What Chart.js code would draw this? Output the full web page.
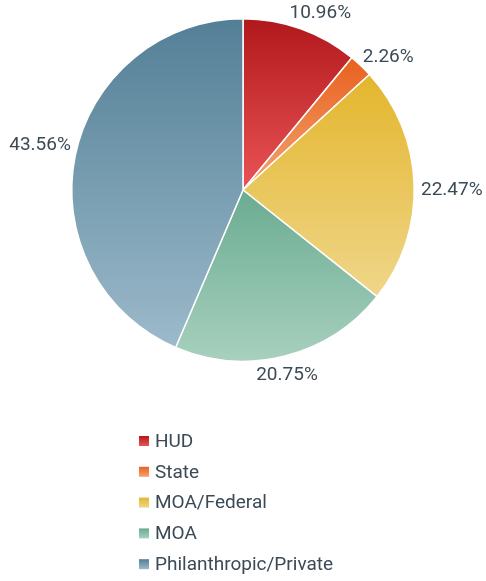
<!DOCTYPE html>
<html lang="en">

<head>
    <meta charset="UTF-8">
    <title>Funding Sources</title>
    <script src="https://cdn.jsdelivr.net/npm/chart.js"></script>
    <style>
        body { margin: 0; background: #fff; }
        .chart-box { position: relative; width: 486px; height: 581px; }
    </style>
</head>

<body>
    <div class="chart-box">
        <canvas id="fundingChart"></canvas>
    </div>

    <script>
        // data
        const labels = ['HUD', 'State', 'MOA/Federal', 'MOA', 'Philanthropic/Private'];
        const shares = [10.96, 2.26, 22.47, 20.75, 43.56];
        // gradient colours: top -> bottom of each slice
        const topColors = ['#b0181b', '#e8611d', '#e4b62d', '#6aac91', '#537f96'];
        const bottomColors = ['#eb5457', '#f4a474', '#efd68a', '#a8d0bf', '#9cbacb'];

        const textColor = '#3b4a55';
        const fontFamily = 'Roboto, "Noto Sans", sans-serif';

        // geometry of a slice, from the chart area and the data
        function sliceGeom(chart, i) {
            const a = chart.chartArea;
            const cx = (a.left + a.right) / 2;
            const cy = (a.top + a.bottom) / 2;
            const r = Math.min(a.right - a.left, a.bottom - a.top) / 2;
            const total = shares.reduce((s, v) => s + v, 0);
            let cum = 0;
            for (let k = 0; k < i; k++) cum += shares[k];
            const a0 = -Math.PI / 2 + 2 * Math.PI * cum / total;
            const a1 = a0 + 2 * Math.PI * shares[i] / total;
            return { cx, cy, r, a0, a1 };
        }

        function sliceGradient(context) {
            const chart = context.chart;
            const i = context.dataIndex;
            if (!chart.chartArea) return topColors[i];
            const g = sliceGeom(chart, i);
            const ys = [g.cy, g.cy + g.r * Math.sin(g.a0), g.cy + g.r * Math.sin(g.a1)];
            for (let k = -1; k <= 2; k++) {
                const up = -Math.PI / 2 + 2 * Math.PI * k;
                const down = Math.PI / 2 + 2 * Math.PI * k;
                if (up >= g.a0 && up <= g.a1) ys.push(g.cy - g.r);
                if (down >= g.a0 && down <= g.a1) ys.push(g.cy + g.r);
            }
            const grad = chart.ctx.createLinearGradient(0, Math.min(...ys), 0, Math.max(...ys));
            grad.addColorStop(0, topColors[i]);
            grad.addColorStop(1, bottomColors[i]);
            return grad;
        }

        // percentage labels outside the slices
        const outsideLabels = {
            id: 'outsideLabels',
            afterDatasetsDraw(chart) {
                const ctx = chart.ctx;
                ctx.save();
                ctx.font = '19px ' + fontFamily;
                ctx.fillStyle = textColor;
                ctx.textAlign = 'center';
                ctx.textBaseline = 'middle';
                shares.forEach((v, i) => {
                    const g = sliceGeom(chart, i);
                    const mid = (g.a0 + g.a1) / 2 + 2 * Math.PI / 180;
                    const dx = Math.cos(mid), dy = Math.sin(mid);
                    const text = v.toFixed(2) + '%';
                    const w = ctx.measureText(text).width;
                    const ax = g.cx + (g.r + 6) * dx;
                    const ay = g.cy + (g.r + 6) * dy;
                    ctx.fillText(text, ax + dx * w / 2, ay + dy * 12);
                });
                ctx.restore();
            }
        };

        // vertical legend under the pie
        const listLegend = {
            id: 'listLegend',
            afterDraw(chart) {
                const ctx = chart.ctx;
                ctx.save();
                ctx.font = '19px ' + fontFamily;
                ctx.textBaseline = 'middle';
                labels.forEach((name, i) => {
                    const y = 441 + i * 30.8;
                    const grad = ctx.createLinearGradient(0, y - 5, 0, y + 5);
                    grad.addColorStop(0, topColors[i]);
                    grad.addColorStop(1, bottomColors[i]);
                    ctx.fillStyle = grad;
                    ctx.fillRect(139, y - 5, 10, 10);
                    ctx.fillStyle = textColor;
                    ctx.fillText(name, 155, y + 1);
                });
                ctx.restore();
            }
        };

        const ctx1 = document.getElementById('fundingChart').getContext('2d');
        new Chart(ctx1, {
            type: 'pie',
            data: {
                labels: labels,
                datasets: [{
                    data: shares,
                    backgroundColor: sliceGradient,
                    borderColor: '#ffffff',
                    borderWidth: 1.5
                }]
            },
            options: {
                responsive: true,
                maintainAspectRatio: false,
                animation: false,
                layout: { padding: { top: 18, bottom: 219 } },
                plugins: {
                    legend: { display: false },
                    tooltip: { enabled: false }
                }
            },
            plugins: [outsideLabels, listLegend]
        });
    </script>
</body>

</html>
